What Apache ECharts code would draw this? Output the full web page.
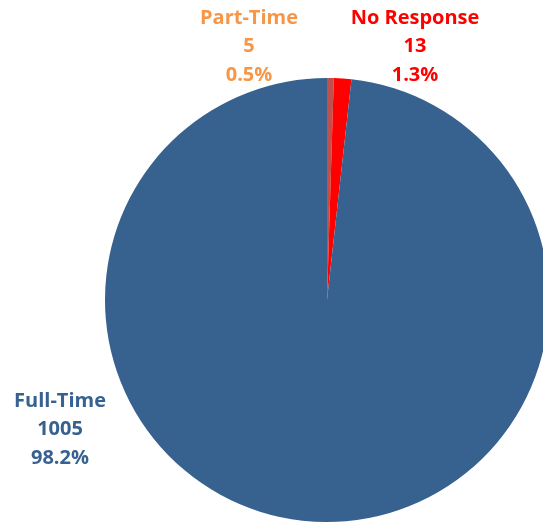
<!DOCTYPE html>
<html>
<head>
<meta charset="utf-8">
<script src="https://cdn.jsdelivr.net/npm/echarts@6/dist/echarts.min.js"></script>
<style>
  html, body { margin: 0; padding: 0; background: #fff; }
  #chart { width: 543px; height: 525px; }
</style>
</head>
<body>
<div id="chart"></div>
<script>
// Employment status breakdown
const categories = ['Part-Time', 'No Response', 'Full-Time'];
const counts = [5, 13, 1005];
const sliceColors = ['#C0504D', '#FF0000', '#37618F'];
const labelColors = ['#F79646', '#FF0000', '#37618F'];
// label anchor (centre x, top y) for each category
const labelSpots = [[249, 4], [415, 4], [60, 387]];

const chart = echarts.init(document.getElementById('chart'));
chart.setOption({
  animation: false,
  series: [{
    type: 'pie',
    center: [327, 300],
    radius: 222,
    startAngle: 90,
    clockwise: true,
    percentPrecision: 1,
    avoidLabelOverlap: false,
    labelLine: { show: false },
    data: categories.map((name, i) => ({
      name,
      value: counts[i],
      itemStyle: { color: sliceColors[i] },
      label: { color: labelColors[i] }
    })),
    label: {
      show: true,
      position: 'outside',
      formatter: '{b}\n{c}\n{d}%',
      fontFamily: 'Open Sans',
      fontWeight: 'bold',
      fontSize: 20,
      lineHeight: 28.5,
      align: 'center'
    },
    labelLayout: function (params) {
      const spot = labelSpots[params.dataIndex];
      return {
        x: spot[0],
        y: spot[1],
        align: 'center',
        verticalAlign: 'top'
      };
    }
  }]
});
</script>
</body>
</html>
